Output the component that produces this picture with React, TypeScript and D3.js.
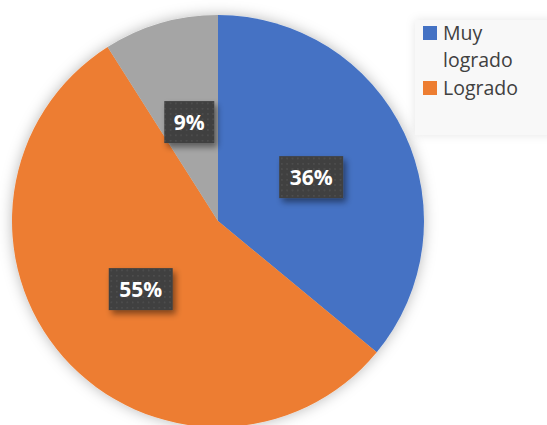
import React from "react";
import * as d3 from "d3";

const categories = ["Muy logrado", "Logrado", "En proceso"];
const values = [36, 55, 9];
const colors = ["#4472C4", "#ED7D31", "#A5A5A5"];
const legendLines = [["Muy", "logrado"], ["Logrado"]];

const W = 547;
const H = 425;
const cx = 218;
const cy = 221;
const R = 206;

export default function App() {
  const pie = d3.pie<number>().sort(null).value((d) => d);
  const arcs = pie(values);
  const arc = d3.arc<d3.PieArcDatum<number>>().innerRadius(0).outerRadius(R);
  const total = d3.sum(values);
  const boxW = [64, 64, 50];
  const font = "'Open Sans', 'Noto Sans', sans-serif";

  return (
    <svg width={W} height={H} style={{ position: "absolute", left: 0, top: 0, background: "#fff" }}>
      <defs>
        <filter id="pieShadow" x="-20%" y="-20%" width="140%" height="140%">
          <feDropShadow dx="0" dy="0" stdDeviation="7" floodColor="#000" floodOpacity="0.28" />
        </filter>
        <filter id="boxShadow" x="-30%" y="-30%" width="160%" height="160%">
          <feDropShadow dx="3" dy="4" stdDeviation="3" floodColor="#000" floodOpacity="0.45" />
        </filter>
        <filter id="legShadow" x="-20%" y="-20%" width="140%" height="140%">
          <feDropShadow dx="0" dy="0" stdDeviation="5" floodColor="#000" floodOpacity="0.1" />
        </filter>
        <pattern id="dots" width="5.33" height="5.33" patternUnits="userSpaceOnUse">
          <rect width="5.33" height="5.33" fill="#404040" />
          <rect x="2" y="2" width="1.2" height="1.2" fill="#5a5a5a" />
        </pattern>
      </defs>
      <g transform={`translate(${cx},${cy})`}>
        <g filter="url(#pieShadow)">
          {arcs.map((a, i) => (
            <path key={i} d={arc(a) || ""} fill={colors[i]} />
          ))}
        </g>
        {arcs.map((a, i) => {
          const [x, y] = arc.centroid(a);
          const pct = Math.round((a.data / total) * 100) + "%";
          const bw = boxW[i];
          const bh = 42;
          return (
            <g key={"l" + i} transform={`translate(${x},${y})`}>
              <rect x={-bw / 2} y={-bh / 2} width={bw} height={bh} fill="url(#dots)" filter="url(#boxShadow)" />
              <text x={0} y={7.5} textAnchor="middle" fill="#fff" fontFamily={font} fontWeight="bold" fontSize={21}>
                {pct}
              </text>
            </g>
          );
        })}
      </g>
      <g>
        <rect x={415} y={20} width={140} height={115} fill="#f8f8f8" filter="url(#legShadow)" />
        {legendLines.map((lines, i) => {
          const top = i === 0 ? 26 : 81;
          return (
            <g key={"lg" + i}>
              <rect x={423} y={top} width={14} height={14} fill={colors[i]} />
              {lines.map((t, j) => (
                <text key={j} x={443} y={top + 14 + j * 27} fill="#404040" fontFamily={font} fontSize={19.5}>
                  {t}
                </text>
              ))}
            </g>
          );
        })}
      </g>
    </svg>
  );
}
